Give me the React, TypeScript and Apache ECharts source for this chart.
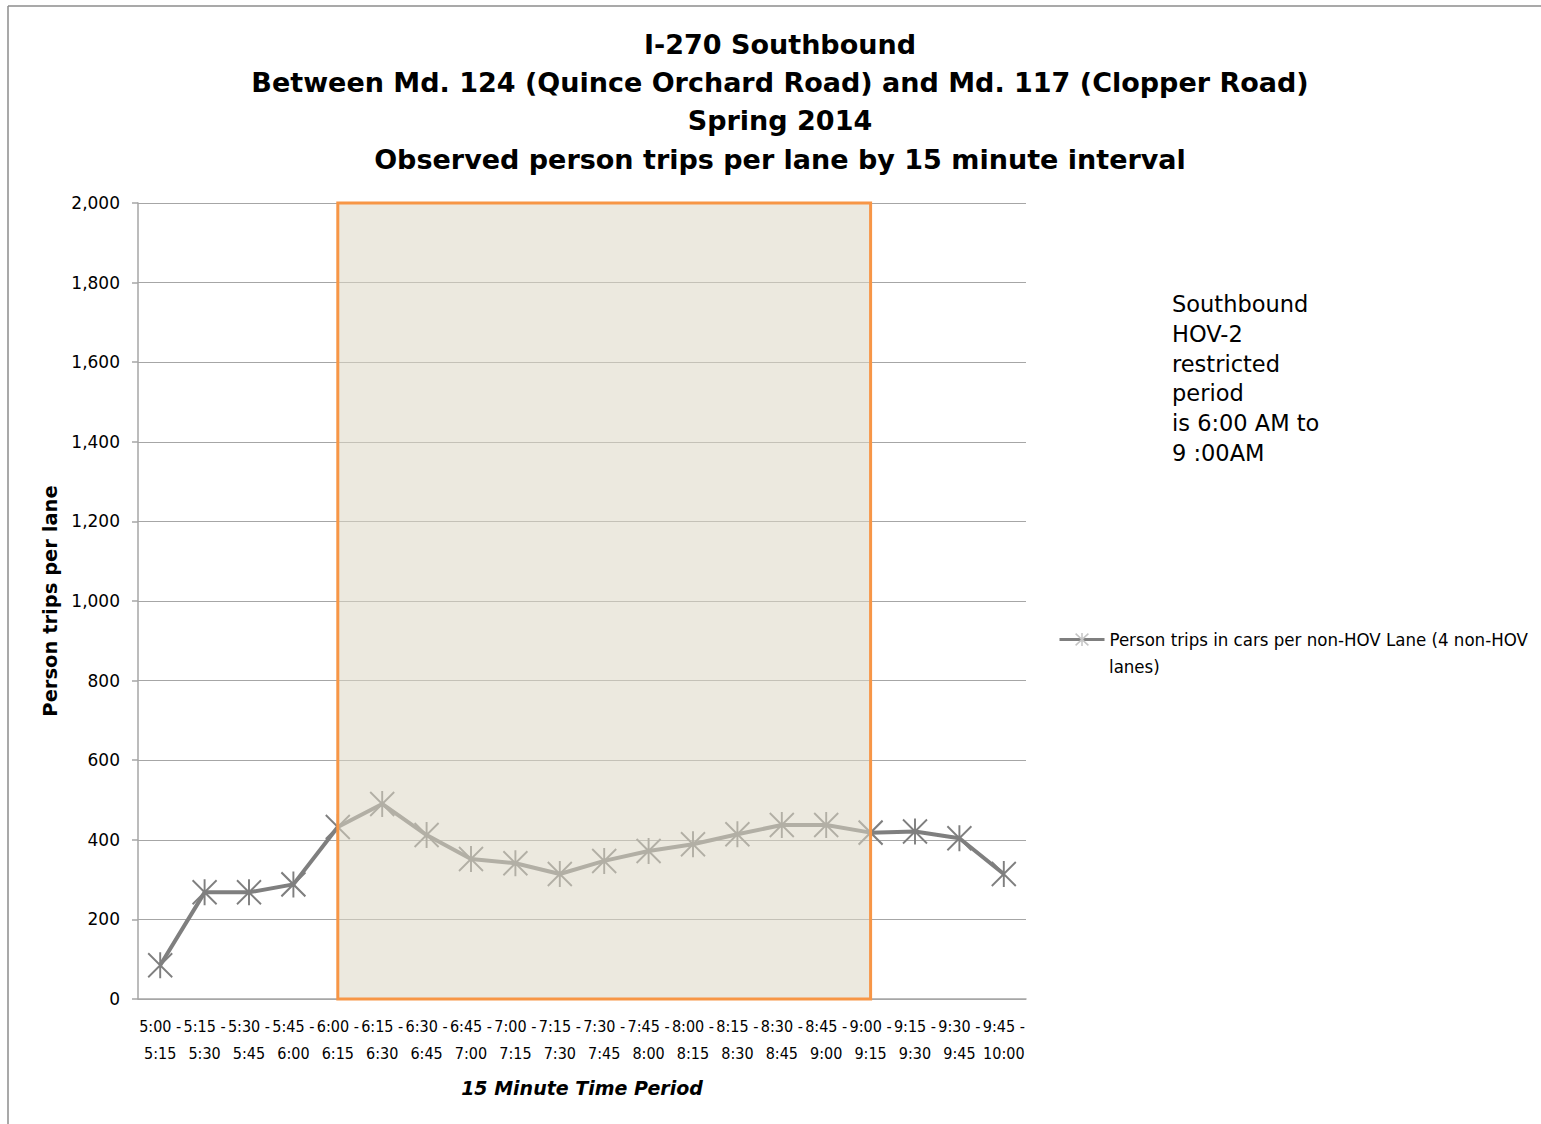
import React, { useEffect, useRef } from "react";
import * as echarts from "echarts";

const titleLines = [
  "I-270 Southbound",
  "Between Md. 124 (Quince Orchard Road) and Md. 117 (Clopper Road)",
  "Spring 2014",
  "Observed person trips per lane by 15 minute interval",
];
const periodStarts = ["5:00", "5:15", "5:30", "5:45", "6:00", "6:15", "6:30", "6:45", "7:00", "7:15", "7:30", "7:45", "8:00", "8:15", "8:30", "8:45", "9:00", "9:15", "9:30", "9:45"];
const periodEnds = ["5:15", "5:30", "5:45", "6:00", "6:15", "6:30", "6:45", "7:00", "7:15", "7:30", "7:45", "8:00", "8:15", "8:30", "8:45", "9:00", "9:15", "9:30", "9:45", "10:00"];
const personTrips = [85, 268, 268, 288, 432, 490, 412, 352, 341, 314, 347, 372, 389, 414, 437, 437, 418, 421, 404, 314];
const seriesName = "Person trips in cars per non-HOV Lane (4 non-HOV lanes)";
const legendFirstLine = "Person trips in cars per non-HOV Lane (4 non-HOV";
const legendSecondLine = "lanes)";
const restrictedStart = "6:00";
const restrictedEnd = "9:00";
const noteLines = ["Southbound", "HOV-2", "restricted", "period", "is 6:00 AM to", "9 :00AM"];

const categories = periodStarts.map((s, i) => `${s} -\n${periodEnds[i]}`);
const catOf = (start: string) => categories[periodStarts.indexOf(start)];

const ASTERISK = "path://M0,1L24,25M24,1L0,25M12,0L12,26";
const NARROW = "'DejaVu Sans Condensed', sans-serif";

export default function App() {
  const ref = useRef<HTMLDivElement>(null);
  useEffect(() => {
    document.body.style.margin = "0";
    const chart = echarts.init(ref.current!, null, { renderer: "svg" });
    chart.setOption({
      animation: false,
      backgroundColor: "#ffffff",
      title: {
        text: titleLines.join("\n"),
        left: 775,
        top: 20,
        textAlign: "center",
        textStyle: {
          fontFamily: "DejaVu Sans",
          fontWeight: "bold",
          fontSize: 27,
          lineHeight: 38.3,
          color: "#000",
        },
      },
      grid: { left: 138, right: 515, top: 203, bottom: 125, containLabel: false },
      legend: {
        left: 1058,
        top: 630,
        padding: 0,
        orient: "vertical",
        itemWidth: 45,
        itemHeight: 16,
        formatter: () => legendFirstLine,
        textStyle: {
          fontFamily: NARROW,
          fontSize: 18.5,
          color: "#000",
        },
        itemStyle: { color: "#c4c4c4", borderColor: "#c4c4c4", borderWidth: 1.5 },
        lineStyle: { color: "#7f7f7f", width: 3 },
        data: [seriesName],
      },
      xAxis: {
        type: "category",
        data: categories,
        boundaryGap: true,
        name: "15 Minute Time Period",
        nameLocation: "middle",
        nameGap: 79,
        nameTextStyle: {
          fontFamily: "DejaVu Sans",
          fontWeight: "bold",
          fontStyle: "italic",
          fontSize: 19,
          color: "#000",
        },
        axisLine: { lineStyle: { color: "#a6a6a6", width: 1.5 } },
        axisTick: { alignWithLabel: true, length: 6, lineStyle: { color: "#a6a6a6", width: 1.5 } },
        axisLabel: {
          interval: 0,
          margin: 14,
          fontFamily: NARROW,
          fontSize: 16,
          lineHeight: 27,
          color: "#000",
        },
        splitLine: { show: false },
      },
      yAxis: {
        type: "value",
        min: 0,
        max: 2000,
        interval: 200,
        name: "Person trips per lane",
        nameLocation: "middle",
        nameRotate: 90,
        nameGap: 75,
        nameTextStyle: {
          fontFamily: "DejaVu Sans",
          fontWeight: "bold",
          fontSize: 19.5,
          color: "#000",
        },
        axisLine: { show: true, lineStyle: { color: "#a6a6a6", width: 1.5 } },
        axisTick: { show: true, length: 6, lineStyle: { color: "#a6a6a6", width: 1.5 } },
        axisLabel: {
          margin: 18,
          fontFamily: "DejaVu Sans",
          fontSize: 17,
          color: "#000",
          formatter: (v: number) => v.toLocaleString("en-US"),
        },
        splitLine: { show: true, lineStyle: { color: "#a6a6a6", width: 1 } },
      },
      series: [
        {
          name: seriesName,
          type: "line",
          data: personTrips,
          z: 2,
          symbol: ASTERISK,
          symbolSize: [24, 26],
          lineStyle: { color: "#7f7f7f", width: 4 },
          itemStyle: { color: "#7f7f7f", borderColor: "#7f7f7f", borderWidth: 2 },
          markArea: {
            z: 10,
            silent: true,
            itemStyle: {
              color: "rgba(221,215,197,0.55)",
              borderColor: "#f79646",
              borderWidth: 3,
            },
            label: { show: false },
            data: [[{ xAxis: catOf(restrictedStart), yAxis: 2000 }, { xAxis: catOf(restrictedEnd), yAxis: 0 }]],
          },
        },
      ],
      graphic: [
        { type: "line", shape: { x1: 8, y1: 6, x2: 8, y2: 1124 }, style: { stroke: "#8c8c8c", lineWidth: 1.5 } },
        { type: "line", shape: { x1: 8, y1: 6, x2: 1541, y2: 6 }, style: { stroke: "#8c8c8c", lineWidth: 1.5 } },
        {
          type: "text",
          left: 1109,
          top: 657,
          style: { text: legendSecondLine, fontFamily: NARROW, fontSize: 18.5, fill: "#000" },
        },
        {
          type: "text",
          left: 1172,
          top: 289,
          style: {
            text: noteLines.join("\n"),
            fontFamily: "DejaVu Sans",
            fontSize: 22.5,
            lineHeight: 29.8,
            fill: "#000",
          },
        },
      ],
    });
    return () => chart.dispose();
  }, []);
  return <div ref={ref} style={{ width: 1541, height: 1124 }} />;
}
